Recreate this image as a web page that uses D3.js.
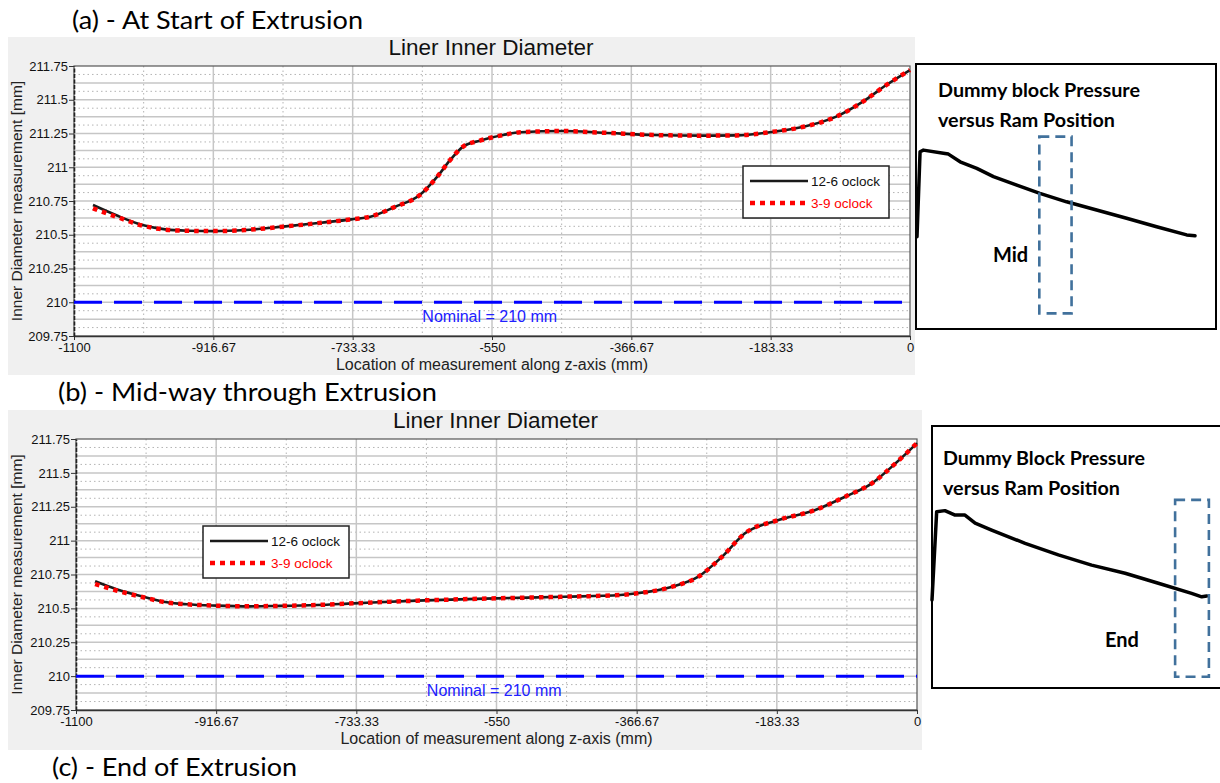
<!DOCTYPE html>
<html>
<head>
<meta charset="utf-8">
<script src="https://cdn.jsdelivr.net/npm/d3@7"></script>
<style>
  body { margin: 0; background: #fff; }
  svg { display: block; }
</style>
</head>
<body>
<svg id="fig" width="1220" height="783"></svg>
<script>
// ---- Liner inner diameter along the z-axis, at start of extrusion ----
const zStart = [-1075, -1045, -1010, -980, -950, -915, -875, -825, -775, -735, -710, -678, -645,
                -622, -605, -588, -566, -535, -513, -456, -404, -338, -272, -228, -180, -140, -97, -62, -31, 0];
const dStart_12_6 = [210.72, 210.646, 210.572, 210.54, 210.53, 210.527, 210.535, 210.56, 210.589, 210.614, 210.634, 210.706, 210.794,
                     210.93, 211.054, 211.153, 211.197, 211.239, 211.259, 211.268, 211.256, 211.239, 211.234, 211.236, 211.263, 211.30, 211.375, 211.486, 211.61, 211.72];
const dStart_3_9  = [210.695, 210.635, 210.568, 210.538, 210.529, 210.527, 210.535, 210.56, 210.589, 210.614, 210.634, 210.706, 210.794,
                     210.93, 211.054, 211.153, 211.197, 211.239, 211.259, 211.268, 211.256, 211.239, 211.234, 211.236, 211.263, 211.30, 211.375, 211.486, 211.61, 211.72];

// ---- Liner inner diameter along the z-axis, mid-way through extrusion ----
const zMid = [-1075, -1047, -1012, -981, -955, -916, -872, -838, -785, -737, -654, -550, -462,
              -388, -366, -320, -286, -255, -225, -181, -133, -94, -59, -28, 0];
const dMid_12_6 = [210.70, 210.641, 210.586, 210.545, 210.53, 210.52, 210.515, 210.518, 210.525, 210.537, 210.557, 210.574, 210.586,
                   210.599, 210.611, 210.66, 210.734, 210.881, 211.054, 211.152, 211.226, 211.324, 211.423, 211.571, 211.72];
const dMid_3_9  = [210.68, 210.632, 210.582, 210.543, 210.53, 210.52, 210.515, 210.518, 210.525, 210.537, 210.557, 210.574, 210.586,
                   210.599, 210.611, 210.66, 210.734, 210.881, 211.054, 211.152, 211.226, 211.324, 211.423, 211.571, 211.72];

// ---- Axis ticks ----
const xTickValues = [-1100, -916.67, -733.33, -550, -366.67, -183.33, 0];
const xTickLabels = ["-1100", "-916.67", "-733.33", "-550", "-366.67", "-183.33", "0"];
const yTickValues = [209.75, 210, 210.25, 210.5, 210.75, 211, 211.25, 211.5, 211.75];
const yTickLabels = ["209.75", "210", "210.25", "210.5", "210.75", "211", "211.25", "211.5", "211.75"];
const seriesNames = ["12-6 oclock", "3-9 oclock"];
const nominalDiameter = 210;

// ---- Dummy block pressure versus ram position (relative units) ----
const ramPosA    = [0, 1.1, 2.3, 9.5, 11.3, 15.5, 21.5, 27.5, 35.9, 44.2, 53.8, 64.6, 75.4, 86.2, 97.0, 100];
const pressureA  = [34.8, 66.9, 67.5, 66.3, 66.0, 63.1, 60.6, 57.5, 54.3, 51.2, 48.0, 44.9, 41.8, 38.6, 35.5, 35.2];
const ramPosB    = [0, 1.7, 4.7, 8.4, 12.0, 15.7, 21.7, 33.9, 46.0, 58.1, 70.3, 82.4, 94.5, 98.2, 100];
const pressureB  = [33.6, 67.3, 67.7, 66.0, 66.0, 62.9, 60.3, 55.2, 50.8, 46.9, 43.8, 40.0, 36.1, 34.8, 35.1];
const windowMid  = { ram: [44, 55.6], pressure: [5.9, 72.6] };
const windowEnd  = { ram: [88.5, 100.8], pressure: [4.3, 71.8] };

const svg = d3.select("#fig");
const chartFont = "'Liberation Sans', Arial, sans-serif";
const capFont = "Lato, 'Open Sans', sans-serif";

// text with a fixed drawn width (used for the wide document captions)
function fitText(sel, width) {
  return sel.attr("textLength", width).attr("lengthAdjust", "spacingAndGlyphs");
}

function drawDiameterChart(cfg, z, d1, d2) {
  const g = svg.append("g");
  const p = cfg.plot;

  g.append("rect").attr("x", cfg.panel.x).attr("y", cfg.panel.y)
    .attr("width", cfg.panel.w).attr("height", cfg.panel.h).attr("fill", "#f0f0f0");
  g.append("rect").attr("x", p.left).attr("y", p.top)
    .attr("width", p.right - p.left).attr("height", p.bottom - p.top).attr("fill", "#fff");

  const x = d3.scaleLinear().domain([-1100, 0]).range([p.left, p.right]);
  const y = d3.scaleLinear().domain([209.75, 211.75]).range([p.bottom, p.top]);

  // horizontal grid: solid every 0.125, dotted halfway between
  const hSolid = d3.range(1, 16).map(i => 209.75 + i * 0.125);
  const hDot = d3.range(0, 16).map(i => 209.75 + 0.0625 + i * 0.125);
  g.selectAll(null).data(hDot).join("line")
    .attr("x1", p.left).attr("x2", p.right)
    .attr("y1", d => y(d)).attr("y2", d => y(d))
    .attr("stroke", "#b4b4b4").attr("stroke-width", 1).attr("stroke-dasharray", "1.5,3");
  g.selectAll(null).data(hSolid).join("line")
    .attr("x1", p.left).attr("x2", p.right)
    .attr("y1", d => y(d)).attr("y2", d => y(d))
    .attr("stroke", "#c6c6c6").attr("stroke-width", 1.5);

  // vertical grid: solid at ticks, dotted at midpoints
  const vSolid = xTickValues.slice(1, -1);
  const vDot = d3.range(0, 6).map(i => (xTickValues[i] + xTickValues[i + 1]) / 2);
  g.selectAll(null).data(vDot).join("line")
    .attr("y1", p.top).attr("y2", p.bottom)
    .attr("x1", d => x(d)).attr("x2", d => x(d))
    .attr("stroke", "#b4b4b4").attr("stroke-width", 1).attr("stroke-dasharray", "1.5,3");
  g.selectAll(null).data(vSolid).join("line")
    .attr("y1", p.top).attr("y2", p.bottom)
    .attr("x1", d => x(d)).attr("x2", d => x(d))
    .attr("stroke", "#c6c6c6").attr("stroke-width", 1.5);

  // plot frame
  g.append("rect").attr("x", p.left).attr("y", p.top)
    .attr("width", p.right - p.left).attr("height", p.bottom - p.top)
    .attr("fill", "none").attr("stroke", "#555").attr("stroke-width", 1.2);

  // axes
  const xAxis = d3.axisBottom(x).tickValues(xTickValues)
    .tickFormat((d, i) => xTickLabels[i]).tickSizeInner(4).tickSizeOuter(0).tickPadding(3);
  const gx = g.append("g").attr("transform", `translate(0,${p.bottom})`).call(xAxis);
  gx.select(".domain").attr("stroke", "#333").attr("stroke-width", 1.6);
  gx.selectAll(".tick line").attr("stroke", "#333");
  gx.selectAll("text").attr("font-family", chartFont).attr("font-size", 13).attr("fill", "#111");

  const yAxis = d3.axisLeft(y).tickValues(yTickValues)
    .tickFormat((d, i) => yTickLabels[i]).tickSizeInner(5).tickSizeOuter(0).tickPadding(1);
  const gy = g.append("g").attr("transform", `translate(${p.left},0)`).call(yAxis);
  gy.select(".domain").attr("stroke", "#222").attr("stroke-width", 1.6).attr("stroke-dasharray", "4,1.5");
  gy.selectAll(".tick line").attr("stroke", "#333");
  gy.selectAll("text").attr("font-family", chartFont).attr("font-size", 13).attr("fill", "#111");

  // title and axis titles
  g.append("text").attr("x", (p.left + p.right) / 2 - 1).attr("y", p.top - 11)
    .attr("text-anchor", "middle").attr("font-family", chartFont).attr("font-size", 22.5)
    .attr("fill", "#111").text("Liner Inner Diameter");
  g.append("text").attr("x", (p.left + p.right) / 2).attr("y", p.bottom + 34)
    .attr("text-anchor", "middle").attr("font-family", chartFont).attr("font-size", 16)
    .attr("fill", "#222").text("Location of measurement along z-axis (mm)");
  g.append("text")
    .attr("transform", `translate(${cfg.panel.x + 14},${(p.top + p.bottom) / 2}) rotate(-90)`)
    .attr("text-anchor", "middle").attr("font-family", chartFont).attr("font-size", 15.5)
    .attr("fill", "#222").text("Inner Diameter measurement [mm]");

  // nominal reference line
  g.append("line").attr("x1", p.left).attr("x2", p.right)
    .attr("y1", y(nominalDiameter)).attr("y2", y(nominalDiameter))
    .attr("stroke", "#0000ff").attr("stroke-width", 3).attr("stroke-dasharray", "28,12");
  g.append("text").attr("x", x(-553)).attr("y", y(nominalDiameter) + 20)
    .attr("text-anchor", "middle").attr("font-family", chartFont).attr("font-size", 16)
    .attr("fill", "#2020ff").text(`Nominal = ${nominalDiameter} mm`);

  // measured profiles
  const line = d3.line().x(d => x(d[0])).y(d => y(d[1])).curve(d3.curveMonotoneX);
  g.append("path").datum(d3.zip(z, d1)).attr("d", line)
    .attr("fill", "none").attr("stroke", "#1a1a1a").attr("stroke-width", 2.6);
  g.append("path").datum(d3.zip(z, d2)).attr("d", line)
    .attr("fill", "none").attr("stroke", "#ff0000").attr("stroke-width", 4.5)
    .attr("stroke-dasharray", "4.5,5");

  // legend
  const L = cfg.legend;
  const lg = g.append("g").attr("transform", `translate(${L.x},${L.y})`);
  lg.append("rect").attr("width", 146).attr("height", 52)
    .attr("fill", "#fff").attr("stroke", "#222").attr("stroke-width", 1.5);
  lg.append("line").attr("x1", 7).attr("x2", 65).attr("y1", 15).attr("y2", 15)
    .attr("stroke", "#1a1a1a").attr("stroke-width", 2.6);
  lg.append("line").attr("x1", 7).attr("x2", 65).attr("y1", 37).attr("y2", 37)
    .attr("stroke", "#ff0000").attr("stroke-width", 4.5).attr("stroke-dasharray", "5,5");
  lg.append("text").attr("x", 68).attr("y", 20).attr("font-family", chartFont)
    .attr("font-size", 13.5).attr("fill", "#111").text(seriesNames[0]);
  lg.append("text").attr("x", 68).attr("y", 42).attr("font-family", chartFont)
    .attr("font-size", 13.5).attr("fill", "#ff0000").text(seriesNames[1]);
}

function drawPressureInset(cfg, ram, pressure, win, label) {
  const g = svg.append("g");
  const b = cfg.box;
  g.append("rect").attr("x", b.x).attr("y", b.y).attr("width", b.w).attr("height", b.h)
    .attr("fill", "#fff").attr("stroke", "#000").attr("stroke-width", 2);

  const x = d3.scaleLinear().domain([0, 100]).range(cfg.xRange);
  const y = d3.scaleLinear().domain([0, 100]).range([b.y + b.h, b.y]);

  fitText(g.append("text").attr("x", cfg.textX).attr("y", cfg.textY).attr("font-family", capFont)
    .attr("font-weight", 700).attr("font-size", 18).attr("fill", "#000").text(cfg.title[0]), 202);
  fitText(g.append("text").attr("x", cfg.textX).attr("y", cfg.textY + 30).attr("font-family", capFont)
    .attr("font-weight", 700).attr("font-size", 18).attr("fill", "#000").text(cfg.title[1]), 177);

  g.append("path").datum(d3.zip(ram, pressure))
    .attr("d", d3.line().x(d => x(d[0])).y(d => y(d[1])))
    .attr("fill", "none").attr("stroke", "#000").attr("stroke-width", 3.5)
    .attr("stroke-linejoin", "round").attr("stroke-linecap", "round");

  g.append("rect").attr("x", x(win.ram[0])).attr("y", y(win.pressure[1]))
    .attr("width", x(win.ram[1]) - x(win.ram[0]))
    .attr("height", y(win.pressure[0]) - y(win.pressure[1]))
    .attr("fill", "none").attr("stroke", "#41719c").attr("stroke-width", 2.6)
    .attr("stroke-dasharray", "10,6");

  g.append("text").attr("x", cfg.labelX).attr("y", cfg.labelY).attr("font-family", capFont)
    .attr("font-weight", 700).attr("font-size", 20).attr("fill", "#000").text(label);
}

// section captions
const headings = [
  { text: "(a) - At Start of Extrusion", x: 72, y: 29, w: 291 },
  { text: "(b) - Mid-way through Extrusion", x: 58, y: 401, w: 379 },
  { text: "(c) - End of Extrusion", x: 52, y: 776, w: 245 }
];

drawDiameterChart({
  panel: { x: 8, y: 37, w: 907, h: 338 },
  plot: { left: 74, top: 66, right: 910, bottom: 336 },
  legend: { x: 743, y: 166 }
}, zStart, dStart_12_6, dStart_3_9);

drawDiameterChart({
  panel: { x: 8, y: 410, w: 914, h: 340 },
  plot: { left: 76, top: 439, right: 917, bottom: 710 },
  legend: { x: 203, y: 526 }
}, zMid, dMid_12_6, dMid_3_9);

drawPressureInset({
  box: { x: 916, y: 64, w: 300, h: 265 },
  xRange: [917, 1195],
  textX: 938, textY: 97,
  labelX: 993, labelY: 262,
  title: ["Dummy block Pressure", "versus Ram Position"]
}, ramPosA, pressureA, windowMid, "Mid");

drawPressureInset({
  box: { x: 932, y: 426, w: 300, h: 262 },
  xRange: [932, 1206.7],
  textX: 943, textY: 465,
  labelX: 1105, labelY: 647,
  title: ["Dummy Block Pressure", "versus Ram Position"]
}, ramPosB, pressureB, windowEnd, "End");

svg.selectAll(null).data(headings).join("text")
  .attr("x", d => d.x).attr("y", d => d.y)
  .attr("font-family", capFont).attr("font-size", 25).attr("fill", "#000")
  .attr("textLength", d => d.w).attr("lengthAdjust", "spacingAndGlyphs")
  .text(d => d.text);
</script>
</body>
</html>
